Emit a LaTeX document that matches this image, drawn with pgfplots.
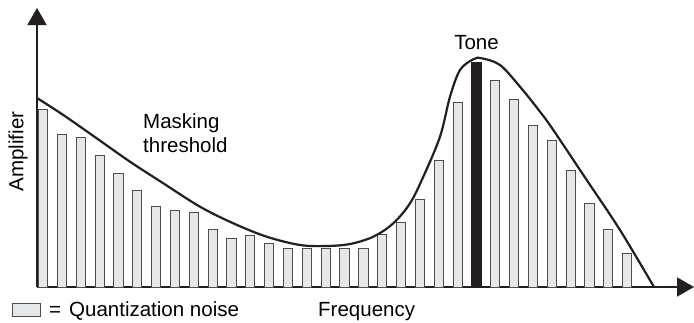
\documentclass[border=0pt]{standalone}
\usepackage{fontspec}
\setmainfont{Liberation Sans}
\usepackage{pgfplots}
\pgfplotsset{compat=1.18}
\usetikzlibrary{arrows.meta}
\definecolor{ink}{HTML}{231F20}
\definecolor{barfill}{HTML}{E6E7E8}
\definecolor{barline}{HTML}{4D4D4F}

\begin{document}
\begin{tikzpicture}[font=\fontsize{20.5bp}{24.5bp}\selectfont]
\begin{axis}[
    x=1bp, y=1bp,
    xmin=0, xmax=657,
    ymin=0, ymax=279,
    axis x line=bottom,
    axis y line=left,
    axis line style={line width=1.8bp, draw=ink, -{Triangle[length=17bp,width=19bp]}},
    xtick=\empty, ytick=\empty,
    clip=false,
]
% quantization noise bars (x = 6 + 18.84 k)
\addplot[ybar, bar shift=0pt, bar width=9.2bp, fill=barfill, draw=barline, line width=0.8bp]
coordinates {
(6.0,178) (24.8,152.7) (43.7,150) (62.5,131.3) (81.4,113.3) (100.2,96.3)
(119.0,80.7) (137.9,77) (156.7,74.7) (175.6,58) (194.4,48.3) (213.2,51.7)
(232.1,44) (250.9,38.3) (269.8,38.3) (288.6,38.3) (307.4,38.3) (326.3,38.3)
(345.1,52.7) (364.0,64.3) (382.8,88) (401.6,126.7) (420.5,184.7)
(458.2,206.7) (477.0,187.3) (495.8,162) (514.7,146.3) (533.5,116.7)
(552.4,83.7) (571.2,57.7) (590.0,33.7)
};
% tone
\addplot[ybar, bar shift=0pt, bar width=10bp, fill=ink, draw=ink, line width=0.5bp]
coordinates {(439.3,224.3)};
% masking threshold
\addplot[ink, line width=2.2bp, smooth, tension=0.55] coordinates {
(0,189) (26.3,172) (59.7,148.7) (93,125.3) (126.3,103.7) (163,80.3)
(196.3,63.7) (229.7,50.3) (263,42) (289.7,41) (313,43) (336.3,50.3)
(356.3,63.7) (373,83.7) (386.3,110.3) (403,150.3) (413,190.3) (423,217)
(436.3,227.7) (444.7,228.7) (463,222) (483,200.3) (503,175.3) (516.3,157)
(549.7,107) (583,57) (617,0)
};

\node[anchor=base west, inner sep=0pt] at (axis cs:106,159) {Masking};
\node[anchor=base west, inner sep=0pt] at (axis cs:106,134.7) {threshold};
\node[anchor=base, inner sep=0pt] at (axis cs:439.5,237.7) {Tone};
\node[rotate=90, inner sep=0pt] at (axis cs:-19,135.5) {Amplifier};
\node[anchor=base west, inner sep=0pt] at (axis cs:281,-29.6) {Frequency};
\draw[fill=barfill, draw=barline, line width=0.8bp] (axis cs:-24.3,-16.3) rectangle (axis cs:3,-29);
\node[anchor=base west, inner sep=0pt] at (axis cs:12,-29.6) {=};
\node[anchor=base west, inner sep=0pt] at (axis cs:32,-29.6) {Quantization noise};

\coordinate (bl) at (axis cs:-37,-35);
\coordinate (tr) at (axis cs:657,287);
\end{axis}
\pgfresetboundingbox
\path (bl) rectangle (tr);
\end{tikzpicture}
\end{document}
